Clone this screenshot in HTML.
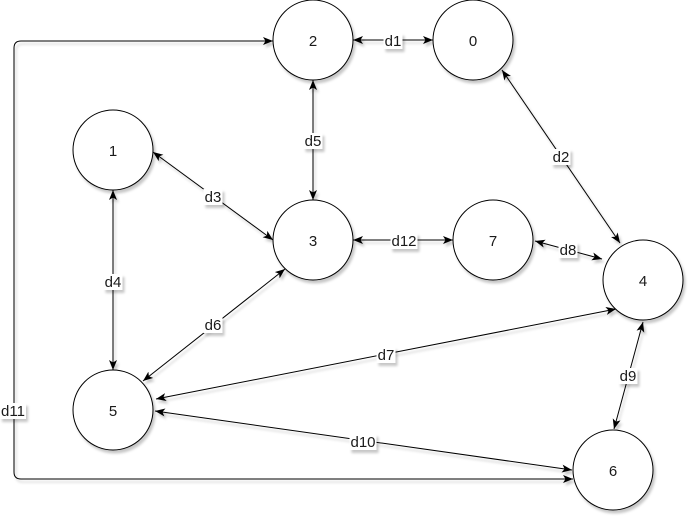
<!DOCTYPE html>
<html><head><meta charset="utf-8"><style>
html,body{margin:0;padding:0;background:#fff;}
svg{display:block;}
text{font-family:"Liberation Sans",Arial,sans-serif;font-size:15px;fill:#1a1a1a;text-anchor:middle;}
</style></head><body>
<svg width="690" height="525" viewBox="0 0 690 525" xmlns="http://www.w3.org/2000/svg">
<defs>
<filter id="sh" x="-20%" y="-20%" width="150%" height="150%">
<feDropShadow dx="2" dy="3" stdDeviation="1.2" flood-color="#000" flood-opacity="0.22"/>
</filter>
<marker id="a" viewBox="0 0 10 8" refX="10" refY="4" markerWidth="10" markerHeight="8" markerUnits="userSpaceOnUse" orient="auto-start-reverse">
<path d="M0,0 L10,4 L0,8 L2.5,4 Z" fill="#000"/>
</marker>
</defs>
<g fill="none" stroke="#000" stroke-width="1" filter="url(#sh)">
<line x1="353" y1="40" x2="433" y2="40" marker-start="url(#a)" marker-end="url(#a)"/>
<line x1="313" y1="80" x2="313" y2="200" marker-start="url(#a)" marker-end="url(#a)"/>
<line x1="153" y1="152" x2="273" y2="240" marker-start="url(#a)" marker-end="url(#a)"/>
<line x1="113" y1="190" x2="113" y2="370" marker-start="url(#a)" marker-end="url(#a)"/>
<line x1="143" y1="381" x2="285" y2="269" marker-start="url(#a)" marker-end="url(#a)"/>
<line x1="353" y1="240" x2="453" y2="240" marker-start="url(#a)" marker-end="url(#a)"/>
<line x1="535" y1="241" x2="602" y2="259" marker-start="url(#a)" marker-end="url(#a)"/>
<line x1="502" y1="70" x2="620" y2="243" marker-start="url(#a)" marker-end="url(#a)"/>
<line x1="156" y1="399" x2="616" y2="309" marker-start="url(#a)" marker-end="url(#a)"/>
<line x1="643" y1="322" x2="614" y2="429" marker-start="url(#a)" marker-end="url(#a)"/>
<line x1="155" y1="411" x2="572" y2="470" marker-start="url(#a)" marker-end="url(#a)"/>
<path d="M573,479 L21,479 Q14,479 14,472 L14,48 Q14,41 21,41 L273,41" marker-start="url(#a)" marker-end="url(#a)"/>
</g>
<g fill="#fff" stroke="#000" stroke-width="1" filter="url(#sh)">
<circle cx="313" cy="40" r="40"/>
<circle cx="473" cy="40" r="40"/>
<circle cx="113" cy="150" r="40"/>
<circle cx="313" cy="240" r="40"/>
<circle cx="493" cy="240" r="40"/>
<circle cx="643" cy="280" r="40"/>
<circle cx="113" cy="410" r="40"/>
<circle cx="613" cy="470" r="40"/>
</g>
<g>
<text x="313" y="46">2</text>
<text x="473" y="46">0</text>
<text x="113" y="156">1</text>
<text x="313" y="246">3</text>
<text x="493" y="246">7</text>
<text x="643" y="286">4</text>
<text x="113" y="416">5</text>
<text x="613" y="476">6</text>
</g>
<g fill="#fff" filter="url(#sh)">
<rect x="383.5" y="33" width="19" height="16"/>
<rect x="303.5" y="133" width="19" height="16"/>
<rect x="203.5" y="189" width="19" height="16"/>
<rect x="103.5" y="274" width="19" height="16"/>
<rect x="203.5" y="317" width="19" height="16"/>
<rect x="390.5" y="233" width="27" height="16"/>
<rect x="558.5" y="242" width="19" height="16"/>
<rect x="551.5" y="149" width="19" height="16"/>
<rect x="376.5" y="347" width="19" height="16"/>
<rect x="618.5" y="368" width="19" height="16"/>
<rect x="349.5" y="434" width="27" height="16"/>
<rect x="0" y="403" width="26" height="16"/>
</g>
<g>
<text x="393" y="46">d1</text>
<text x="313" y="146">d5</text>
<text x="213" y="202">d3</text>
<text x="113" y="287">d4</text>
<text x="213" y="330">d6</text>
<text x="404" y="246">d12</text>
<text x="568" y="255">d8</text>
<text x="561" y="162">d2</text>
<text x="386" y="360">d7</text>
<text x="628" y="381">d9</text>
<text x="363" y="447">d10</text>
<text x="13" y="416">d11</text>
</g>
</svg>
</body></html>
